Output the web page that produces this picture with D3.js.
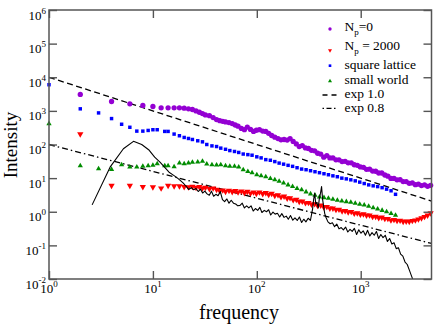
<!DOCTYPE html>
<html>
<head>
<meta charset="utf-8">
<script src="https://cdn.jsdelivr.net/npm/d3@7"></script>
<style>
  body { margin: 0; background: #fff; }
  text { font-family: "Liberation Serif", "Times New Roman", serif; fill: #000; }
</style>
</head>
<body>
<div id="chart"></div>
<script>
// ---- data ----
// N_p=0 and N_p=2000 share one frequency grid
const freqP = [2,4,6,8,10,12,14,16,18,20,22,24,26,28,30,32,35,38,41,44,47,50,54,58,62,66,71,76,81,87,93,99,106,114,122,130,139,149,160,171,183,196,209,224,240,256,274,294,314,336,360,385,412,441,472,505,540,578,618,662,708,758,811,867,928,993,1063,1137,1217,1302,1393,1491,1595,1707,1826,1954,2091,2237,2394,2561,2741,2932,3138,3357,3592,3844,4113,4401,4709];

const np0 = [3090,1900,1620,1450,1350,1230,1230,1230,1230,1200,1150,1100,1000,910,830,760,720,630,550,510,490,470,450,420,380,350,300,275,330,280,245,265,275,250,245,215,185,165,150,138,141,135,150,123,104,87,93,79,76,67,65,55,52,42,47,40,40,35,35,31,31.5,28.5,28.5,25,24,21.5,21,18.3,18.5,16.2,16,14.2,14.2,12.4,11.4,9.8,9.8,8.9,9.0,7.9,7.9,7.0,7.2,6.4,6.6,6.0,6.3,5.7,6.1];

const np2000 = [205,6.0,6.0,5.5,5.4,5.0,6.0,5.8,5.8,5.5,5.4,5.6,5.2,5.5,5.0,5.2,4.8,5.0,4.57,4.17,4.37,3.98,4.27,3.89,4.17,3.80,4.07,3.63,3.98,3.55,3.80,3.47,3.80,3.39,3.63,3.24,3.47,3.02,3.16,2.75,2.88,2.51,2.57,2.24,2.29,2.0,2.04,1.82,1.86,1.66,1.70,1.51,1.55,1.38,1.41,1.26,1.26,1.15,1.17,1.05,1.07,0.98,1.0,0.89,0.91,0.83,0.85,0.78,0.79,0.71,0.72,0.66,0.68,0.62,0.62,0.56,0.58,0.54,0.55,0.51,0.52,0.51,0.54,0.56,0.60,0.65,0.71,0.78,0.91];

// square lattice and small world share another grid
const freqA = [1,2,3,4,5,6,7,8,9,10,11,13,14,16,18,20,22,24,27,30,33,37,41,45,50,55,61,67,74,82,90,100,110,122,135,149,164,181,200,221,244,270,298,329,363,401,443,489,540,596,658,727,803,886,979,1081,1193,1318,1455,1607,1774,1959,2163];

const squareLattice = [6000,1150,870,590,400,325,250,250,262,275,275,245,245,204,182,162,151,141,129,120,100,91,87,78,72,66,62,58,52,50,48,43,40,35.5,34,31,28,26,24,22.4,20.4,18.6,17.8,16.6,15.5,14.5,13.5,12.6,11.7,11,10,9.5,8.9,8.3,7.6,6.9,6.3,5.9,5.6,5.2,4.7,4.2,3.3];

const smallWorld = [417,23.4,19,18.2,25.1,21.4,21.4,22.4,23.4,24,26.9,23.4,23.4,21.9,28.2,26.9,28.2,29.5,30.2,31.6,26.3,25.1,24.5,25.1,23.4,22.4,22.4,21.4,17.8,15.8,14.5,12.6,11.7,11,9.8,8.9,8.1,7.2,6.3,5.6,4.9,4.5,3.9,3.4,3.1,2.75,2.63,2.51,2.34,2.19,2.09,2.0,1.91,1.78,1.66,1.58,1.45,1.32,1.2,1.1,1.0,0.89,0.79];

// unlabelled black spectrum
const freqBlack = [2.6,3.9,5.2,6.5,7.8,9.1,10.4,11.7,13,14.3,15.6,16.9,18.2,19.5,20.8,22.1,23.4,24.7,26,27.3,28.7,30.1,31.6,33.2,34.9,36.6,38.4,40.4,42.4,44.5,46.7,49,51.5,54,56.7,59.6,62.6,65.7,69,72.4,76,79.8,83.8,88,92.4,97,102,107,112,118,124,130,136,143,150,158,166,174,183,192,201,211,222,233,245,257,270,283,297,312,328,344,352,361,369,379,390,400,410,420,430,439,450,461,484,508,534,560,588,618,649,681,715,751,789,828,869,913,958,1006,1057,1110,1165,1223,1285,1349,1416,1487,1561,1640,1722,1808,1898,1993,2093,2197,2307,2422,2544,2671,2804,2945,3092,3246];

const blackVals = [1.6,22,75,124,100,70,42,30,21,15,12.5,10.5,8.7,7.2,5.8,4.6,5.2,4.5,4.9,4.0,4.7,3.6,4.1,3.4,3.1,4.1,2.9,3.3,3.0,4.0,2.3,2.0,2.4,1.8,2.2,1.8,1.7,1.5,1.55,1.8,1.3,1.5,1.3,1.5,1.05,1.25,1.1,1.35,0.95,1.1,1.0,1.15,0.8,0.98,0.85,0.9,0.7,0.88,0.68,0.74,0.6,0.77,0.56,0.66,0.55,0.7,0.48,0.6,0.5,0.64,0.55,1.2,2.3,3.6,1.7,1.9,1.3,2.5,3.5,5.6,2.3,1.5,0.9,0.7,0.5,0.44,0.47,0.36,0.43,0.31,0.34,0.29,0.35,0.25,0.3,0.26,0.32,0.21,0.29,0.23,0.27,0.2,0.28,0.19,0.24,0.2,0.26,0.16,0.21,0.17,0.2,0.13,0.16,0.11,0.12,0.08,0.085,0.055,0.048,0.032,0.027,0.018,0.012,0.008];

// power-law guide lines
const refFreq = [1, 4800];
const exp10 = [10000, 2.08];
const exp08 = [100, 0.114];

const xTicks = [1, 10, 100, 1000];
const yTicks = [1e-2, 1e-1, 1, 10, 100, 1e3, 1e4, 1e5, 1e6];

// ---- layout ----
const margin = { top: 10, right: 4.5, bottom: 46, left: 49 };
const width = 436 - margin.left - margin.right;
const height = 325 - margin.top - margin.bottom;

const svg = d3.select("#chart").append("svg")
  .attr("width", 436)
  .attr("height", 325);

const g = svg.append("g")
  .attr("transform", `translate(${margin.left},${margin.top})`);

const x = d3.scaleLog().domain([1, 4800]).range([0, width]);
const y = d3.scaleLog().domain([0.01, 1e6]).range([height, 0]);

svg.append("clipPath").attr("id", "plot-clip")
  .append("rect").attr("width", width).attr("height", height);

const purple = "#9400d3", red = "#ff0000", blue = "#0000ff", green = "#008c00";

// guide lines
const refLine = d3.line().x(d => x(d[0])).y(d => y(d[1]));
const lines = g.append("g").attr("clip-path", "url(#plot-clip)");
lines.append("path").datum(d3.zip(refFreq, exp10))
  .attr("d", refLine).attr("fill", "none").attr("stroke", "#000")
  .attr("stroke-width", 1.3).attr("stroke-dasharray", "6,3.5");
lines.append("path").datum(d3.zip(refFreq, exp08))
  .attr("d", refLine).attr("fill", "none").attr("stroke", "#000")
  .attr("stroke-width", 1.3).attr("stroke-dasharray", "6,3,1.5,3");

// scatter series
function drawSeries(freqs, vals, symbol, size, color, rotate) {
  g.append("g").selectAll("path")
    .data(d3.zip(freqs, vals))
    .enter().append("path")
    .attr("d", d3.symbol().type(symbol).size(size))
    .attr("transform", d => `translate(${x(d[0])},${y(d[1])})` + (rotate ? " rotate(180)" : ""))
    .attr("fill", color);
}
drawSeries(freqP, np0, d3.symbolCircle, 22, purple, false);
drawSeries(freqP, np2000, d3.symbolTriangle, 17, red, true);
drawSeries(freqA, squareLattice, d3.symbolSquare, 12, blue, false);
drawSeries(freqA, smallWorld, d3.symbolTriangle, 12, green, false);

// black spectrum
g.append("path")
  .datum(d3.zip(freqBlack, blackVals))
  .attr("clip-path", "url(#plot-clip)")
  .attr("d", d3.line().x(d => x(d[0])).y(d => y(d[1])))
  .attr("fill", "none").attr("stroke", "#000").attr("stroke-width", 1.1)
  .attr("stroke-linejoin", "round");

// frame and inward ticks on all four sides
const frameColor = "#555";
function styleAxis(sel) {
  sel.select(".domain").remove();
  sel.selectAll(".tick line").attr("stroke", frameColor).attr("stroke-width", 1.4);
  sel.selectAll(".tick text").remove();
}
g.append("g").attr("transform", `translate(0,${height})`)
  .call(d3.axisBottom(x).tickValues(xTicks).tickSize(-8)).call(styleAxis);
g.append("g")
  .call(d3.axisTop(x).tickValues(xTicks).tickSize(-8)).call(styleAxis);
g.append("g")
  .call(d3.axisLeft(y).tickValues(yTicks).tickSize(-8)).call(styleAxis);
g.append("g").attr("transform", `translate(${width},0)`)
  .call(d3.axisRight(y).tickValues(yTicks).tickSize(-8)).call(styleAxis);

g.append("rect")
  .attr("width", width).attr("height", height)
  .attr("fill", "none").attr("stroke", frameColor).attr("stroke-width", 1.5);

// tick labels as 10^n
function powerLabel(sel, d) {
  sel.append("tspan").text("10");
  sel.append("tspan").attr("dy", -6).style("font-size", "9px")
    .text(Math.round(Math.log10(d)));
}
xTicks.forEach(d => {
  g.append("text")
    .attr("x", x(d)).attr("y", height + 14)
    .attr("text-anchor", "middle").style("font-size", "13px")
    .call(powerLabel, d);
});
yTicks.forEach(d => {
  g.append("text")
    .attr("x", -3).attr("y", y(d) + 9.5)
    .attr("text-anchor", "end").style("font-size", "13px")
    .call(powerLabel, d);
});

// axis titles
svg.append("text")
  .attr("x", 239).attr("y", 319)
  .attr("text-anchor", "middle").style("font-size", "20px")
  .text("frequency");
svg.append("text")
  .attr("transform", "rotate(-90)")
  .attr("x", -145).attr("y", 17)
  .attr("text-anchor", "middle").style("font-size", "19px")
  .text("Intensity");

// legend
const legend = svg.append("g").style("font-size", "13.5px");
const lx = 330, tx = 344.5;

legend.append("path").attr("d", d3.symbol().type(d3.symbolCircle).size(9))
  .attr("transform", `translate(${lx},29)`).attr("fill", purple);
const l1 = legend.append("text").attr("x", tx).attr("y", 30.5);
l1.append("tspan").text("N");
l1.append("tspan").attr("dy", 4).style("font-size", "9px").text("p");
l1.append("tspan").attr("dy", -4).text("=0");

legend.append("path").attr("d", d3.symbol().type(d3.symbolTriangle).size(7))
  .attr("transform", `translate(${lx},50.5) rotate(180)`).attr("fill", red);
const l2 = legend.append("text").attr("x", tx).attr("y", 50);
l2.append("tspan").text("N");
l2.append("tspan").attr("dy", 4).style("font-size", "9px").text("p");
l2.append("tspan").attr("dy", -4).text(" = 2000");

legend.append("path").attr("d", d3.symbol().type(d3.symbolSquare).size(7))
  .attr("transform", `translate(${lx},65.7)`).attr("fill", blue);
legend.append("text").attr("x", tx).attr("y", 68.5).text("square lattice");

legend.append("path").attr("d", d3.symbol().type(d3.symbolTriangle).size(7))
  .attr("transform", `translate(${lx},81)`).attr("fill", green);
legend.append("text").attr("x", tx).attr("y", 84).text("small world");

legend.append("line").attr("x1", 322.5).attr("x2", 337.5).attr("y1", 95).attr("y2", 95)
  .attr("stroke", "#000").attr("stroke-width", 1.3).attr("stroke-dasharray", "5,4");
legend.append("text").attr("x", tx).attr("y", 97.5).text("exp 1.0");

legend.append("line").attr("x1", 322.5).attr("x2", 337.5).attr("y1", 108.3).attr("y2", 108.3)
  .attr("stroke", "#000").attr("stroke-width", 1.3).attr("stroke-dasharray", "1.5,2.5,5,2.5");
legend.append("text").attr("x", tx).attr("y", 111.5).text("exp 0.8");
</script>
</body>
</html>
